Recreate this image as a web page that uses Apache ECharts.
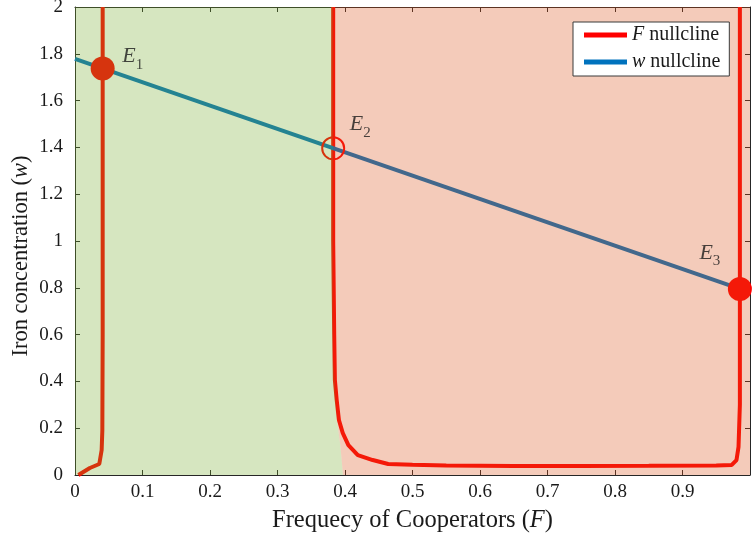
<!DOCTYPE html>
<html>
<head>
<meta charset="utf-8">
<script src="https://cdn.jsdelivr.net/npm/echarts@6/dist/echarts.min.js"></script>
<style>html,body{margin:0;padding:0;background:#fff}#c{width:752px;height:540px}</style>
</head>
<body>
<div id="c"></div>
<script>
// ---- data ----
var xTicks = [0,0.1,0.2,0.3,0.4,0.5,0.6,0.7,0.8,0.9,1];
var yTicks = [0,0.2,0.4,0.6,0.8,1,1.2,1.4,1.6,1.8,2];

// F nullcline, left branch
var redLeftF = [0.005,0.022,0.036,0.0395,0.0405,0.041,0.041];
var redLeftW = [0.0,0.030,0.047,0.107,0.19,0.6,2.0];
// F nullcline, right branch (interior + boundary)
var redRightF = [0.3825,0.3825,0.384,0.385,0.3877,0.391,0.3966,0.405,0.419,0.441,0.464,0.50,0.55,0.65,0.75,0.85,0.95,0.973,0.980,0.983,0.985,0.985];
var redRightW = [2.0,1.0,0.6,0.406,0.32,0.235,0.18,0.128,0.085,0.064,0.047,0.044,0.041,0.038,0.038,0.039,0.041,0.043,0.064,0.12,0.30,2.0];

// w nullcline
var blueF = [0, 0.985];
var blueW = [1.778, 0.795];

// equilibria
var eqNames = ['1','2','3'];
var eqF = [0.041, 0.3825, 0.985];
var eqW = [1.737, 1.396, 0.795];
var eqStable = [true, false, true];

// basin boundaries (separatrix)
var greenF = [0,0,0.3825,0.3825,0.385,0.388,0.393,0.397];
var greenW = [0,2,2,0.5,0.4,0.235,0.128,0];
var pinkF = [0.3825,1,1,0.397,0.393,0.388,0.385,0.3825];
var pinkW = [2,2,0,0,0.128,0.235,0.4,0.5];

// ---- chart ----
var FONT = 'Liberation Serif';
var chart = echarts.init(document.getElementById('c'), null, {renderer:'canvas'});

function pairs(a,b){return a.map(function(v,i){return [v,b[i]];});}
var redData = pairs(redLeftF, redLeftW).concat([[null,null]]).concat(pairs(redRightF, redRightW));

function polySeries(fs, ws, color){
  return {
    type:'custom', z:3, silent:true, clip:true,
    data:[[fs[0], ws[0]]],
    renderItem:function(params, api){
      var pts = fs.map(function(f,i){return api.coord([f, ws[i]]);});
      return {type:'polygon', shape:{points:pts}, style:{fill:color, stroke:null}};
    }
  };
}

var axisColor = '#262626';
var labelStyle = {fontFamily:FONT, fontSize:19, color:'#1a1a1a'};

chart.setOption({
  animation:false,
  backgroundColor:'#fff',
  grid:{left:75, right:2, top:7, bottom:65, containLabel:false, outerBoundsMode:'none'},
  legend:{
    z:10,
    left:573, top:22, orient:'vertical',
    backgroundColor:'#fff', borderColor:'#3a3a3a', borderWidth:1,
    padding:[3,9,4,11], itemGap:7, itemWidth:43, itemHeight:5,
    icon:'rect',
    data:[
      {name:'F nullcline', itemStyle:{color:'#ff0000'}},
      {name:'w nullcline', itemStyle:{color:'#0072bd'}}
    ],
    formatter:function(n){return '{i|'+n.charAt(0)+'}'+n.slice(1);},
    textStyle:{fontFamily:FONT, fontSize:20, color:'#1a1a1a', lineHeight:19,
      rich:{i:{fontFamily:FONT, fontSize:20, fontStyle:'italic', color:'#1a1a1a'}}}
  },
  xAxis:[
    {type:'value', min:0, max:1, interval:0.1, position:'bottom',
     axisLine:{show:true, onZero:false, lineStyle:{color:axisColor, width:1}},
     axisTick:{show:true, inside:true, length:5, lineStyle:{color:axisColor}},
     axisLabel:Object.assign({margin:8, showMaxLabel:false, formatter:function(v){return String(+v.toFixed(1));}}, labelStyle),
     splitLine:{show:false},
     name:'Frequecy of Cooperators ({i|F})', nameLocation:'middle', nameGap:33, nameMoveOverlap:false,
     nameTextStyle:{fontFamily:FONT, fontSize:24.5, color:'#1a1a1a', verticalAlign:'top',
       rich:{i:{fontFamily:FONT, fontSize:24.5, fontStyle:'italic', color:'#1a1a1a'}}}
    },
    {type:'value', min:0, max:1, interval:0.1, position:'top',
     axisLine:{show:true, onZero:false, lineStyle:{color:axisColor, width:1}},
     axisTick:{show:true, inside:true, length:5, lineStyle:{color:axisColor}},
     axisLabel:{show:false}, splitLine:{show:false}}
  ],
  yAxis:[
    {type:'value', min:0, max:2, interval:0.2, position:'left',
     axisLine:{show:true, onZero:false, lineStyle:{color:axisColor, width:1}},
     axisTick:{show:true, inside:true, length:5, lineStyle:{color:axisColor}},
     axisLabel:Object.assign({margin:12, formatter:function(v){return String(+v.toFixed(1));}}, labelStyle),
     splitLine:{show:false},
     name:'Iron concentration ({i|w})', nameLocation:'middle', nameGap:42, nameMoveOverlap:false,
     nameTextStyle:{fontFamily:FONT, fontSize:22.5, color:'#1a1a1a', padding:[0,30,0,0],
       rich:{i:{fontFamily:FONT, fontSize:22.5, fontStyle:'italic', color:'#1a1a1a'}}}
    },
    {type:'value', min:0, max:2, interval:0.2, position:'right',
     axisLine:{show:true, onZero:false, lineStyle:{color:axisColor, width:1}},
     axisTick:{show:true, inside:true, length:5, lineStyle:{color:axisColor}},
     axisLabel:{show:false}, splitLine:{show:false}}
  ],
  series:[
    {name:'F nullcline', type:'line', z:2, data:redData, showSymbol:false, connectNulls:false,
     lineStyle:{color:'#ff0000', width:4}, itemStyle:{color:'#ff0000'}},
    {name:'w nullcline', type:'line', z:2, data:pairs(blueF, blueW), showSymbol:false,
     lineStyle:{color:'#0072bd', width:4}, itemStyle:{color:'#0072bd'}},
    {type:'scatter', z:2.5, silent:true,
     data:eqF.map(function(f,i){
       return eqStable[i]
         ? {value:[f,eqW[i]], symbolSize:24, itemStyle:{color:'#ff0000', opacity:1}}
         : {value:[f,eqW[i]], symbolSize:22, itemStyle:{color:'rgba(0,0,0,0)', borderColor:'#ff0000', borderWidth:2, opacity:1}};
     })},
    polySeries(greenF, greenW, 'rgba(119,172,48,0.3)'),
    polySeries(pinkF, pinkW, 'rgba(217,83,25,0.3)'),
    {type:'scatter', z:5, silent:true, symbolSize:0,
     data:eqF.map(function(f,i){
       var off = [[30,-12],[27,-24],[-30,-36]][i];
       return {value:[f,eqW[i]], label:{show:true, position:'inside', offset:off,
         formatter:'{e|E}{s|'+eqNames[i]+'}'}};
     }),
     label:{rich:{
       e:{fontFamily:FONT, fontSize:22, fontStyle:'italic', color:'#1a1a1a', verticalAlign:'top', lineHeight:22},
       s:{fontFamily:FONT, fontSize:15, color:'#1a1a1a', verticalAlign:'top', padding:[12,0,0,0], lineHeight:15}
     }}}
  ]
});
</script>
</body>
</html>
